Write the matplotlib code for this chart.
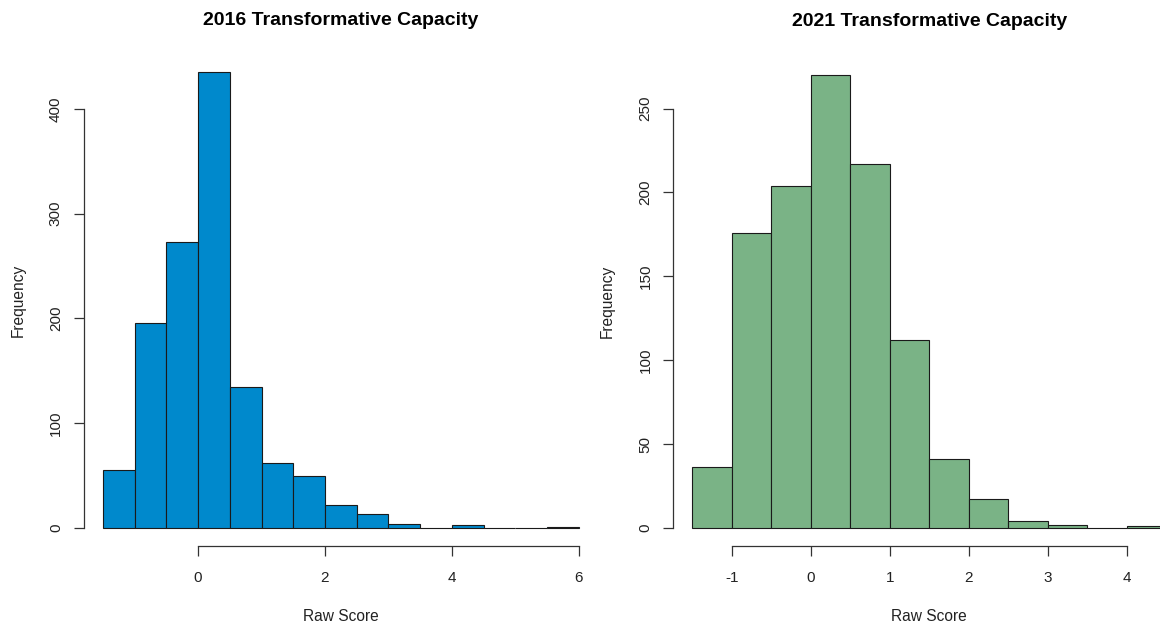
import matplotlib
matplotlib.use("Agg")
import matplotlib.pyplot as plt
import numpy as np

plt.rcParams['font.family'] = ['Liberation Sans', 'DejaVu Sans']

# Data
edges_2016 = [-1.5, -1.0, -0.5, 0.0, 0.5, 1.0, 1.5, 2.0, 2.5, 3.0, 3.5, 4.0, 4.5, 5.0, 5.5, 6.0]
counts_2016 = [55, 196, 273, 435, 134, 62, 49, 22, 13, 4, 0, 3, 0, 0, 1]
edges_2021 = [-1.5, -1.0, -0.5, 0.0, 0.5, 1.0, 1.5, 2.0, 2.5, 3.0, 3.5, 4.0, 4.5]
counts_2021 = [36, 176, 204, 270, 217, 112, 41, 17, 4, 2, 0, 1]
xticks_2016 = [0, 2, 4, 6]
yticks_2016 = [0, 100, 200, 300, 400]
xticks_2021 = [-1, 0, 1, 2, 3, 4]
yticks_2021 = [0, 50, 100, 150, 200, 250]
titles = ["2016 Transformative Capacity", "2021 Transformative Capacity"]
colors = ["#0089CC", "#7AB386"]

fig = plt.figure(figsize=(11.6, 6.28), dpi=100)
ax1 = fig.add_axes([0.0722, 0.1306, 0.4433, 0.7834])
ax2 = fig.add_axes([0.5806, 0.1306, 0.4410, 0.7787])

def r_hist(ax, edges, counts, color, title, xt, yt, tpad):
    edges = np.array(edges)
    widths = np.diff(edges)
    ax.bar(edges[:-1], counts, width=widths, align='edge', color=color,
           edgecolor='#1a1a1a', linewidth=0.8)
    rng = edges[-1] - edges[0]
    ax.set_xlim(edges[0] - 0.04 * rng, edges[-1] + 0.04 * rng)
    ymax = max(counts)
    ax.set_ylim(-0.04 * ymax, ymax * 1.04)
    for s in ['top', 'right']:
        ax.spines[s].set_visible(False)
    ax.spines['left'].set_bounds(yt[0], yt[-1])
    ax.spines['bottom'].set_bounds(xt[0], xt[-1])
    for s in ['left', 'bottom']:
        ax.spines[s].set_color('#333333')
        ax.spines[s].set_linewidth(0.9)
    ax.set_xticks(xt)
    ax.set_xticklabels([str(v) for v in xt])
    ax.set_yticks(yt)
    ax.set_yticklabels([str(v) for v in yt], rotation=90, va='center')
    ax.tick_params(axis='both', length=7, width=0.9, color='#333333',
                   labelsize=11, labelcolor='#222222')
    ax.tick_params(axis='x', pad=11)
    ax.tick_params(axis='y', pad=8)
    ax.set_title(title, fontsize=14, fontweight='bold', pad=tpad)
    ax.set_xlabel("Raw Score", fontsize=11.2, labelpad=17, color='#222222')
    ax.set_ylabel("Frequency", fontsize=11.2, labelpad=17, color='#222222')

r_hist(ax1, edges_2016, counts_2016, colors[0], titles[0], xticks_2016, yticks_2016, 21)
r_hist(ax2, edges_2021, counts_2021, colors[1], titles[1], xticks_2021, yticks_2021, 22)

fig.savefig("out.png", dpi=100)
